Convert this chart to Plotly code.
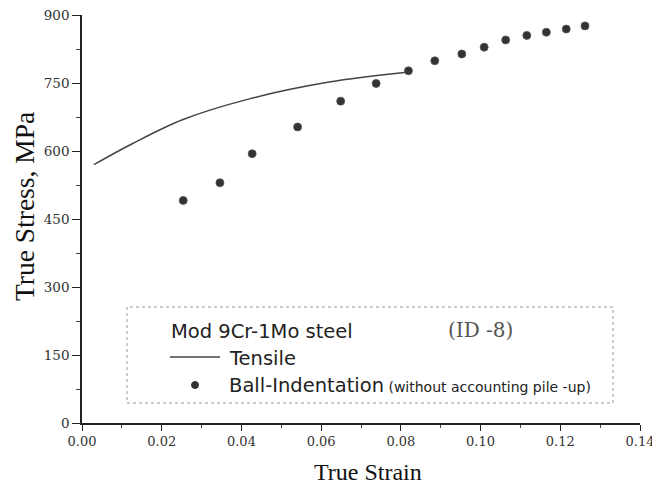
import plotly.graph_objects as go

# Tensile curve (true strain, true stress MPa)
tensile_strain = [0.003, 0.0126, 0.0252, 0.042, 0.062, 0.081]
tensile_stress = [570, 616, 669, 715, 752, 773]

# Ball-indentation points
bi_strain = [0.0254, 0.0346, 0.0427, 0.0541, 0.0649, 0.0738, 0.0819, 0.0885,
             0.0953, 0.1009, 0.1063, 0.1116, 0.1165, 0.1215, 0.1262]
bi_stress = [491, 530, 594, 653, 710, 749, 777, 799,
             814, 829, 845, 855, 862, 869, 876]

x_ticks = [0.00, 0.02, 0.04, 0.06, 0.08, 0.10, 0.12, 0.14]
y_ticks = [0, 150, 300, 450, 600, 750, 900]

# the page puts the figure 8px in from the top-left corner
OFF = 8
W, H = 660 - OFF, 485 - OFF
L, R, T, B = 82 - OFF, 20, 15 - OFF, 62
pw, ph = W - L - R, H - T - B

def px(x):
    return (x - OFF - L) / pw

def py(y):
    return (H - B - (y - OFF)) / ph

fig = go.Figure()
fig.add_trace(go.Scatter(x=tensile_strain, y=tensile_stress, mode="lines",
                         line=dict(color="#444444", width=1.5, shape="spline", smoothing=1.0),
                         showlegend=False))
fig.add_trace(go.Scatter(x=bi_strain, y=bi_stress, mode="markers",
                         marker=dict(color="#333333", size=8, line=dict(color="#555555", width=0.8)),
                         showlegend=False))

serif = "DejaVu Serif"
sans = "DejaVu Sans"

# Legend box
fig.add_shape(type="rect", xref="paper", yref="paper",
              x0=px(127), x1=px(613), y0=py(403), y1=py(307),
              line=dict(color="#999999", width=1, dash="dot"))
fig.add_shape(type="line", xref="paper", yref="paper",
              x0=px(170), x1=px(220), y0=py(357), y1=py(357),
              line=dict(color="#444444", width=1.5))
fig.add_shape(type="circle", xref="paper", yref="paper",
              x0=px(191.5), x1=px(198.5), y0=py(388.5), y1=py(381.5),
              fillcolor="#333333", line=dict(color="#333333", width=1))

annots = [
    dict(x=px(169), y=py(331), text="Mod 9Cr-1Mo steel", font=dict(family=sans, size=19.5, color="#222")),
    dict(x=px(446), y=py(330), text="(ID -8)", font=dict(family=serif, size=20, color="#555")),
    dict(x=px(227), y=py(358), text="Tensile", font=dict(family=sans, size=19.5, color="#222")),
    dict(x=px(227), y=py(385),
         text="Ball-Indentation<span style='font-size:14px'> (without accounting pile -up)</span>",
         font=dict(family=sans, size=19.5, color="#222")),
]
for a in annots:
    fig.add_annotation(xref="paper", yref="paper", showarrow=False,
                       xanchor="left", yanchor="middle", **a)

# Axis titles
fig.add_annotation(xref="paper", yref="paper", x=px(368), y=py(472), showarrow=False,
                   xanchor="center", yanchor="middle", text="True Strain",
                   font=dict(family="Liberation Serif", size=24, color="#111"))
fig.add_annotation(xref="paper", yref="paper", x=px(24), y=py(207), showarrow=False,
                   xanchor="center", yanchor="middle", text="True Stress, MPa", textangle=-90,
                   font=dict(family="Liberation Serif", size=27.5, color="#111"))

fig.update_layout(
    width=W, height=H,
    margin=dict(l=L, r=R, t=T, b=B),
    paper_bgcolor="white", plot_bgcolor="white",
    font=dict(family=serif, color="#222"),
    xaxis=dict(range=[0, 0.14], tickvals=x_ticks, tickformat=".2f", automargin=False,
               ticklabeloverflow="allow",
               showgrid=False, zeroline=False, showline=True, linecolor="#222", linewidth=1.5,
               ticks="outside", ticklen=6, tickwidth=1.2, tickcolor="#222",
               minor=dict(dtick=0.01, ticks="outside", ticklen=3, tickcolor="#444"),
               tickfont=dict(family=serif, size=13, color="#333")),
    yaxis=dict(range=[0, 900], tickvals=y_ticks, automargin=False,
               ticklabeloverflow="allow",
               showgrid=False, zeroline=False, showline=True, linecolor="#222", linewidth=1.5,
               ticks="outside", ticklen=8, tickwidth=1.2, tickcolor="#222",
               minor=dict(dtick=75, ticks="outside", ticklen=4, tickcolor="#444"),
               tickfont=dict(family=serif, size=13.5, color="#333")),
)

fig.write_html("out.html")
